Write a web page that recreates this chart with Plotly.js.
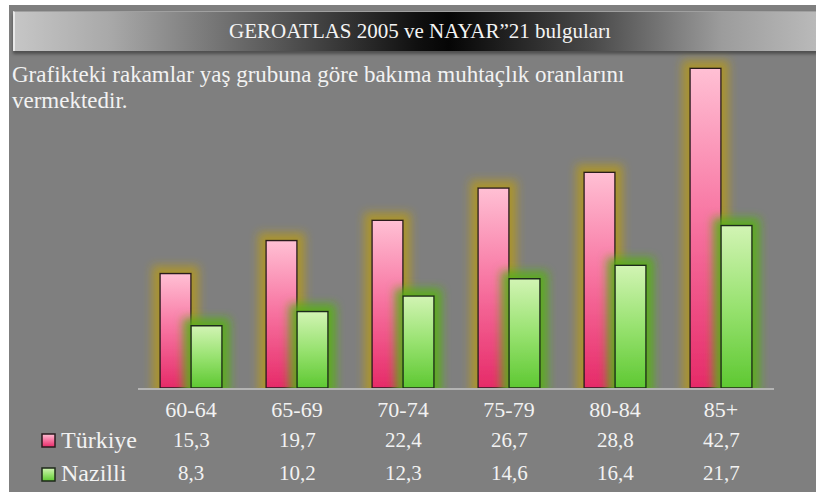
<!DOCTYPE html>
<html>
<head>
<meta charset="utf-8">
<script src="https://cdn.plot.ly/plotly-3.0.1.min.js"></script>
<style>
  html, body { margin: 0; padding: 0; background: #ffffff; }
  #wrap { position: relative; width: 816px; height: 492px; overflow: hidden; background: #ffffff; }
  #bg { position: absolute; left: 9px; top: 5px; width: 807px; height: 487px; background: #7f7f7f; }
  #bar { position: absolute; left: 13px; top: 11px; width: 803px; height: 39px;
    background: linear-gradient(to right, #c6c6c6 0%, #a8a8a8 12%, #5a5a5a 32%, #101010 50%, #050505 54%, #4a4a4a 72%, #9c9c9c 88%, #bababa 100%);
    box-shadow: 0 3px 3px rgba(40,40,40,0.55); border-left: 2px solid #e8e8e8; border-top: 1px solid #a0a0a0; }
  #chart { position: absolute; left: 0; top: 0; width: 816px; height: 492px; }
</style>
</head>
<body>
<div id="wrap">
  <div id="bg"></div>
  <div id="bar"></div>
  <div id="chart"></div>
</div>
<script>
// ---- data ----
const categories = ["60-64", "65-69", "70-74", "75-79", "80-84", "85+"];
const turkiye = [15.3, 19.7, 22.4, 26.7, 28.8, 42.7];
const nazilli = [8.3, 10.2, 12.3, 14.6, 16.4, 21.7];
const seriesNames = ["Türkiye", "Nazilli"];
const titleText = "GEROATLAS 2005 ve NAYAR”21 bulguları";
const subtitleLines = ["Grafikteki rakamlar yaş grubuna göre bakıma muhtaçlık oranlarını", "vermektedir."];

// ---- layout helpers (pixel -> paper) ----
const L = 138, R = 42, T = 51, B = 104, W = 816, H = 492;
const PW = W - L - R, PH = H - T - B;
const px2x = px => (px - L) / PW;
const py2y = py => (H - B - py) / PH;

const FONT = "Liberation Serif";
const TXT = "#f2f2f2";
const fmt = v => v.toFixed(1).replace(".", ",");

const traces = [
  { type: "bar", name: seriesNames[0], x: categories, y: turkiye,
    marker: { color: "#f0588c", line: { color: "#2a1a1e", width: 1.5 } }, hoverinfo: "none" },
  { type: "bar", name: seriesNames[1], x: categories, y: nazilli,
    marker: { color: "#80d858", line: { color: "#1e2a1a", width: 1.5 } }, hoverinfo: "none" }
];

const annotations = [];
subtitleLines.forEach((s, i) => annotations.push({
  text: s, xref: "paper", yref: "paper", x: px2x(10), y: py2y(i === 0 ? 74 : 100),
  xanchor: "left", yanchor: "middle", showarrow: false,
  font: { family: FONT, size: 23, color: TXT }
}));
const rows = [turkiye, nazilli];
const rowY = [440, 473];
rows.forEach((vals, r) => {
  annotations.push({
    text: seriesNames[r], xref: "paper", yref: "paper", x: px2x(59), y: py2y(rowY[r]),
    xanchor: "left", yanchor: "middle", showarrow: false,
    font: { family: FONT, size: 24, color: TXT }
  });
  vals.forEach((v, i) => annotations.push({
    text: fmt(v), xref: "x", yref: "paper", x: categories[i], y: py2y(rowY[r]),
    xanchor: "center", yanchor: "middle", showarrow: false,
    font: { family: FONT, size: 21, color: TXT }
  }));
});

const shapes = [
  { type: "rect", xref: "paper", yref: "paper", x0: px2x(42), x1: px2x(55), y0: py2y(447), y1: py2y(434),
    fillcolor: "#f0588c", line: { color: "#2a1a1e", width: 1.5 } },
  { type: "rect", xref: "paper", yref: "paper", x0: px2x(42), x1: px2x(55), y0: py2y(481), y1: py2y(468),
    fillcolor: "#80d858", line: { color: "#1e2a1a", width: 1.5 } }
];

const layout = {
  width: W, height: H,
  font: { family: FONT, color: TXT },
  margin: { l: L, r: R, t: T, b: B, pad: 0 },
  paper_bgcolor: "rgba(0,0,0,0)", plot_bgcolor: "rgba(0,0,0,0)",
  title: { text: titleText, xref: "container", yref: "container", x: 420 / W, y: 1 - 31 / H,
    xanchor: "center", yanchor: "middle", font: { family: FONT, size: 21, color: "#f4f4f4" } },
  showlegend: false,
  barmode: "group", bargap: 0.415, bargroupgap: 0,
  xaxis: { type: "category", showline: true, linecolor: "#b4b4b4", linewidth: 1.5,
    ticks: "", showgrid: false, zeroline: false, ticklabelstandoff: 1,
    tickfont: { family: FONT, size: 22, color: TXT }, fixedrange: true },
  yaxis: { range: [0, 45], visible: false, showgrid: false, zeroline: false, fixedrange: true },
  annotations: annotations, shapes: shapes
};

Plotly.newPlot("chart", traces, layout, { displayModeBar: false, responsive: false }).then(gd => {
  const NS = "http://www.w3.org/2000/svg";
  const svg = gd.querySelector("svg.main-svg");
  const defs = document.createElementNS(NS, "defs");
  svg.insertBefore(defs, svg.firstChild);
  function grad(id, stops) {
    const g = document.createElementNS(NS, "linearGradient");
    g.setAttribute("id", id); g.setAttribute("x1", "0"); g.setAttribute("y1", "0");
    g.setAttribute("x2", "0"); g.setAttribute("y2", "1");
    stops.forEach(([o, c]) => {
      const s = document.createElementNS(NS, "stop");
      s.setAttribute("offset", o); s.setAttribute("stop-color", c); g.appendChild(s);
    });
    defs.appendChild(g);
  }
  function glow(id, color, op) {
    const f = document.createElementNS(NS, "filter");
    f.setAttribute("id", id); f.setAttribute("x", "-100%"); f.setAttribute("y", "-50%");
    f.setAttribute("width", "300%"); f.setAttribute("height", "200%");
    f.innerHTML =
      '<feMorphology in="SourceAlpha" operator="dilate" radius="7" result="d"/>' +
      '<feGaussianBlur in="d" stdDeviation="5" result="b"/>' +
      '<feFlood flood-color="' + color + '" flood-opacity="' + op + '"/>' +
      '<feComposite in2="b" operator="in" result="g"/>' +
      '<feMerge><feMergeNode in="g"/><feMergeNode in="SourceGraphic"/></feMerge>';
    defs.appendChild(f);
  }
  grad("gPink", [["0", "#ffc0d4"], ["0.45", "#f878a4"], ["1", "#e62a68"]]);
  grad("gGreen", [["0", "#d2f4b4"], ["0.5", "#98e270"], ["1", "#5ec832"]]);
  glow("fPink", "#ae9628", 0.9);
  glow("fGreen", "#5aae1a", 0.9);
  const tr = gd.querySelectorAll(".barlayer .trace");
  const ids = [["gPink", "fPink"], ["gGreen", "fGreen"]];
  tr.forEach((t, k) => {
    t.querySelectorAll(".point path").forEach(p => {
      p.style.fill = "url(#" + ids[k][0] + ")";
      p.setAttribute("filter", "url(#" + ids[k][1] + ")");
    });
  });
  const sp = gd.querySelectorAll(".shapelayer path");
  sp.forEach((p, k) => { if (k < 2) p.style.fill = "url(#" + ids[k][0] + ")"; });
});
</script>
</body>
</html>
